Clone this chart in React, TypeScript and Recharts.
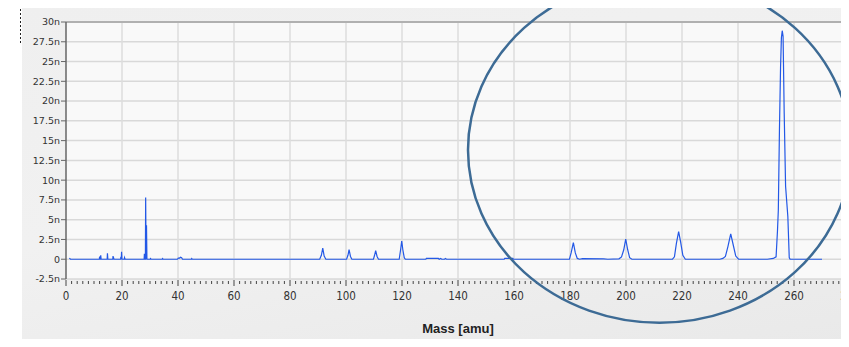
import {
  CartesianGrid,
  Line,
  LineChart,
  ReferenceLine,
  XAxis,
  YAxis,
} from "recharts";

// mass [amu] and ion current [nA]
const masses = [
  1.2, 1.6, 11.9, 12.0, 12.15, 12.3, 12.4, 12.55, 14.7, 14.8, 14.95, 16.7, 16.8,
  17.0, 17.15, 19.5, 19.6, 19.75, 19.85, 20.0, 20.8, 20.9, 21.1, 27.9, 28.0,
  28.15, 28.35, 28.45, 28.6, 28.75, 28.9, 30.0, 30.2, 30.4, 34.3, 34.5, 34.7,
  39.8, 40.1, 40.6, 40.9, 41.3, 41.6, 44.7, 44.9, 45.1, 90.6, 91.2, 91.7, 92.2,
  92.8, 100.2, 100.7, 101.1, 101.6, 102.1, 109.8, 110.2, 110.6, 111.1, 111.6,
  119.0, 119.5, 119.9, 120.3, 120.8, 121.2, 128.5, 128.7, 133.0, 133.3, 133.8,
  134.2, 135.2, 135.5, 135.9, 156.5, 156.7, 159.6, 159.8, 179.8, 180.4, 181.2,
  181.9, 182.6, 183.4, 184.5, 192.0, 193.5, 197.5, 198.4, 199.2, 199.9, 200.6,
  201.3, 202.1, 216.6, 217.3, 218.0, 218.8, 219.5, 220.3, 221.2, 233.5, 234.6,
  235.5, 236.4, 237.4, 238.3, 239.2, 240.2, 250.5, 252.6, 253.6, 254.1, 254.4,
  254.8, 255.2, 255.5, 255.8, 256.1, 256.5, 257.0, 257.8, 258.3, 258.6, 270.0,
];
const currents = [
  0.15, 0, 0, 0.35, 0, 0, 0.5, 0, 0, 0.75, 0, 0, 0.4, 0.15, 0, 0, 0.3, 0, 0.95,
  0, 0, 0.2, 0, 0, 0.7, 0, 0, 7.8, 0, 4.3, 0, 0, 0.1, 0, 0, 0.1, 0, 0, 0.15,
  0.15, 0.25, 0.2, 0, 0, 0.1, 0, 0, 0.5, 1.4, 0.4, 0, 0, 0.5, 1.2, 0.35, 0, 0,
  0.5, 1.1, 0.35, 0, 0, 1.2, 2.3, 1.2, 0.2, 0, 0, 0.1, 0.1, 0, 0.1, 0, 0, 0.1,
  0, 0, 0.1, 0.1, 0, 0, 0.8, 2.1, 0.8, 0.1, 0, 0.08, 0.05, 0, 0.05, 0.3, 1.2,
  2.55, 1.2, 0.2, 0, 0, 0.3, 2.0, 3.5, 2.2, 0.5, 0, 0, 0.1, 0.35, 1.6, 3.2, 1.8,
  0.4, 0, 0, 0.1, 0.3, 3.6, 6.2, 16.3, 24.3, 28.0, 28.9, 28.2, 18.5, 9.2, 5.4,
  0.2, 0, 0,
];

const yTicks = [-2.5, 0, 2.5, 5, 7.5, 10, 12.5, 15, 17.5, 20, 22.5, 25, 27.5, 30];
const xMajor = [0, 20, 40, 60, 80, 100, 120, 140, 160, 180, 200, 220, 240, 260, 280];
const xMinor = Array.from({ length: 141 }, (_, i) => i * 2);

const data = masses.map((m, i) => ({ mass: m, current: currents[i] }));

const fmtY = (v: number) => (v === 0 ? "0" : `${v}n`);

const XTick = (props: any) => {
  const { x, y, payload } = props;
  const v = payload.value as number;
  const major = v % 20 === 0;
  return (
    <g>
      <line
        x1={x}
        x2={x}
        y1={y + (major ? 1 : 2)}
        y2={y + (major ? 7 : 5)}
        stroke="#444"
        strokeWidth={1}
      />
      {major && (
        <text
          x={x}
          y={y + 21}
          textAnchor="middle"
          fontSize={11.5}
          fontFamily="'Liberation Sans Narrow', 'DejaVu Sans Condensed', 'Liberation Sans', sans-serif"
          fill="#333"
        >
          {v}
        </text>
      )}
    </g>
  );
};

const App = () => {
  return (
    <div
      style={{
        position: "relative",
        width: 849,
        height: 347,
        margin: -8,
        overflow: "hidden",
        background: "#ffffff",
      }}
    >
      <div
        style={{
          position: "absolute",
          left: 22,
          top: 5,
          right: 0,
          bottom: 0,
          background: "linear-gradient(170deg, #efefef 0%, #f1f1f1 50%, #e9e9e9 100%)",
        }}
      />
      <div style={{ position: "absolute", left: 0, top: 0 }}>
        <LineChart
          width={900}
          height={347}
          data={data}
          margin={{ top: 22, right: 50, bottom: 0, left: 0 }}
        >
          <CartesianGrid
            vertical={false}
            stroke="#d9d9d9"
            fill="#f9f9f9"
            strokeWidth={1.5}
          />
          {xMajor.slice(1).map((v) => (
            <ReferenceLine key={v} x={v} stroke="#dcdcdc" strokeWidth={1.5} />
          ))}
          <ReferenceLine y={30} stroke="#b0b0b0" strokeWidth={2} />
          <XAxis
            type="number"
            dataKey="mass"
            domain={[0, 280]}
            ticks={xMinor}
            interval={0}
            height={68}
            axisLine={false}
            tickLine={false}
            tickSize={0}
            tickMargin={0}
            tick={<XTick />}
            label={{
              value: "Mass [amu]",
              position: "insideBottom",
              offset: 14,
              fontSize: 13,
              fontWeight: "bold",
              fontFamily: "'Liberation Sans', Arial, sans-serif",
              fill: "#222",
            }}
          />
          <YAxis
            type="number"
            domain={[-2.5, 30]}
            ticks={yTicks}
            interval={0}
            width={66}
            tickFormatter={fmtY}
            axisLine={{ stroke: "#666", strokeWidth: 1.5 }}
            tickLine={{ stroke: "#666" }}
            tickSize={5}
            tickMargin={1}
            tick={{
              fontSize: 9.5,
              fontFamily: "'DejaVu Sans', sans-serif",
              fill: "#333",
            }}
          />
          <Line
            type="linear"
            dataKey="current"
            stroke="#2358e6"
            strokeWidth={1.2}
            dot={false}
            isAnimationActive={false}
          />
        </LineChart>
      </div>
      <svg
        width={849}
        height={347}
        style={{ position: "absolute", left: 0, top: 0, pointerEvents: "none" }}
      >
        <line x1={20.5} x2={20.5} y1={5} y2={45} stroke="#222" strokeDasharray="2 2" />
        <ellipse
          cx={659.5}
          cy={150}
          rx={191.5}
          ry={172.7}
          fill="none"
          stroke="#3d6b95"
          strokeWidth={2.5}
        />
      </svg>
    </div>
  );
};

export default App;
